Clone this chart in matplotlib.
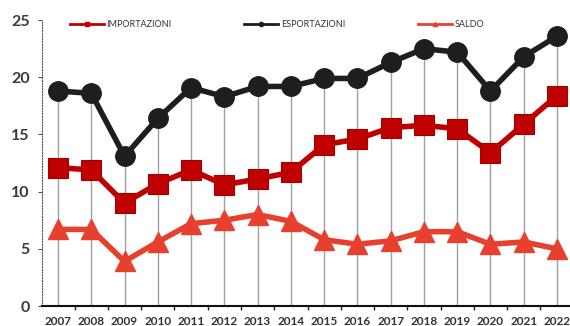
import matplotlib.pyplot as plt
import numpy as np

# data
years = list(range(2007, 2023))
esportazioni = [18.8, 18.6, 13.1, 16.4, 19.1, 18.3, 19.2, 19.2, 19.9, 19.9, 21.3, 22.5, 22.2, 18.8, 21.8, 23.6]
importazioni = [12.1, 11.9, 9.0, 10.7, 11.9, 10.6, 11.1, 11.7, 14.1, 14.6, 15.6, 15.8, 15.5, 13.4, 15.9, 18.4]
saldo = [6.7, 6.7, 3.9, 5.6, 7.2, 7.5, 8.0, 7.4, 5.8, 5.4, 5.7, 6.5, 6.5, 5.4, 5.6, 5.0]

plt.rcParams['font.family'] = ['Lato', 'DejaVu Sans']

fig = plt.figure(figsize=(5.7, 3.26), dpi=100)
ax = fig.add_axes([0.0737, 0.0613, 0.9263, 0.877])

# grey drop lines from the top series down to zero
ax.vlines(years, 0, esportazioni, color='#a0a0a0', lw=1, zorder=1)

ax.plot(years, importazioni, color='#c00000', lw=4, marker='s', ms=14,
        mec='#a00000', mew=0.8, zorder=3)
ax.plot(years, esportazioni, color='#1e1e1e', lw=4, marker='o', ms=14, zorder=3)
ax.plot(years, saldo, color='#e8402f', lw=4, marker='^', ms=14,
        mec='#e8402f', zorder=3)

ax.set_xlim(2006.52, 2022.39)
ax.set_ylim(0, 25)

ax.set_xticks(years)
ax.set_xticklabels([str(y) for y in years], fontsize=8.5, fontweight='bold', color='#333333')
ax.set_xticks(np.arange(2007.5, 2022, 1), minor=True)
ax.tick_params(axis='x', which='major', length=0, pad=7)
ax.tick_params(axis='x', which='minor', length=3, width=1, direction='out', color='#222222')

ax.set_yticks([0, 5, 10, 15, 20, 25])
ax.set_yticklabels(['0', '5', '10', '15', '20', '25'], fontsize=11.5, fontweight='bold', color='#3a3a3a')
ax.tick_params(axis='y', length=3, width=0.8, color='#555555', pad=6)

for s in ['top', 'right']:
    ax.spines[s].set_visible(False)
ax.spines['left'].set_linestyle((0, (1, 1.5)))
ax.spines['left'].set_color('#555555')
ax.spines['bottom'].set_linewidth(1.5)
ax.spines['bottom'].set_color('#111111')

# legend row along the top
leg_items = [('IMPORTAZIONI', '#c00000', 's', 0.053),
             ('ESPORTAZIONI', '#1e1e1e', 'o', 0.383),
             ('SALDO', '#e8402f', '^', 0.712)]
for label, col, mk, x0 in leg_items:
    ax.plot([x0, x0 + 0.064], [0.985, 0.985], transform=ax.transAxes, color=col,
            lw=2, clip_on=False, zorder=4)
    ax.plot([x0 + 0.032], [0.985], transform=ax.transAxes, color=col, marker=mk,
            ms=3, clip_on=False, zorder=4)
    ax.text(x0 + 0.069, 0.985, label, transform=ax.transAxes, fontsize=6.5,
            color='#333333', va='center', ha='left')

fig.savefig('out.png', dpi=100)
